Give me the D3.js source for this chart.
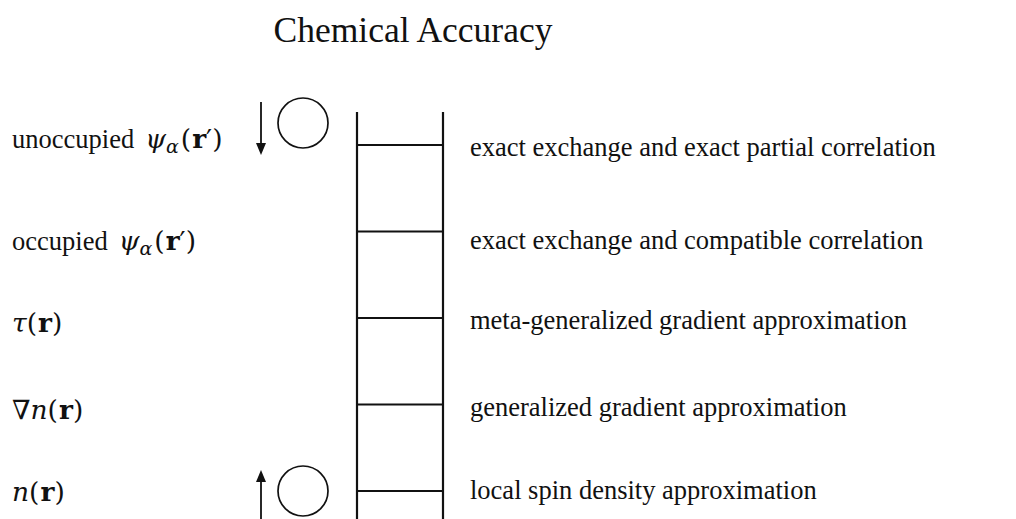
<!DOCTYPE html>
<html>
<head>
<meta charset="utf-8">
<script src="https://cdn.jsdelivr.net/npm/d3@7"></script>
<style>
  body { margin: 0; background: #fff; }
  text { font-family: "Liberation Serif", "DejaVu Serif", serif; fill: #111; }
  tspan.m { font-family: "DejaVu Serif", serif; }
</style>
</head>
<body>
<div id="chart"></div>
<script>
// rungs of the ladder, bottom to top
const rungs = ['LSDA', 'GGA', 'meta-GGA', 'hyper-GGA', 'RPA-like']
const rungLabels = [
    'local spin density approximation',
    'generalized gradient approximation',
    'meta-generalized gradient approximation',
    'exact exchange and compatible correlation',
    'exact exchange and exact partial correlation'
]
// ingredients on the left (parts: [text, style])
const ingredients = [
    [['n', 'i'], ['(', 'm'], ['r', 'b'], [')', 'm']],
    [['\u2207', 'm'], ['n', 'i'], ['(', 'm'], ['r', 'b'], [')', 'm']],
    [['\u03c4', 'i'], ['(', 'm'], ['r', 'b'], [')', 'm']],
    [['occupied', ''], ['\u03c8', 'i'], ['\u03b1', 'sub'], ['(', 'm'], ['r', 'b'], ['\u2032', 'm'], [')', 'm']],
    [['unoccupied', ''], ['\u03c8', 'i'], ['\u03b1', 'sub'], ['(', 'm'], ['r', 'b'], ['\u2032', 'm'], [')', 'm']]
]
const leftOffset = [2, 6, 6, 10, -5]
const rightOffset = [0, 3, 3, 9, 3]
const title = 'Chemical Accuracy'

const width = 1016, height = 519
const svg = d3.select('#chart').append('svg')
    .attr('width', width)
    .attr('height', height)

const y = d3.scalePoint().domain(rungs).range([491, 145])
const railL = 357, railR = 443

svg.append('text')
    .attr('x', 413).attr('y', 42)
    .attr('text-anchor', 'middle')
    .style('font-size', '35.5px')
    .text(title)

// rails
svg.selectAll('line.rail').data([railL, railR])
    .enter().append('line')
    .attr('class', 'rail')
    .attr('x1', d => d).attr('x2', d => d)
    .attr('y1', 112).attr('y2', height + 2)
    .attr('stroke', '#111').attr('stroke-width', 2.2)

svg.selectAll('line.rung').data(rungs)
    .enter().append('line')
    .attr('class', 'rung')
    .attr('x1', railL).attr('x2', railR)
    .attr('y1', d => y(d)).attr('y2', d => y(d))
    .attr('stroke', '#111').attr('stroke-width', 2.2)

svg.selectAll('text.rlab').data(rungLabels)
    .enter().append('text')
    .attr('class', 'rlab')
    .attr('x', 470)
    .attr('y', (d, i) => y(rungs[i]) + 8 + rightOffset[i])
    .style('font-size', '26.5px')
    .text(d => d)

const lab = svg.selectAll('text.llab').data(ingredients)
    .enter().append('text')
    .attr('class', 'llab')
    .attr('x', 12)
    .attr('y', (d, i) => y(rungs[i]) + 8 + leftOffset[i])
    .style('font-size', '26.5px')
lab.each(function(parts) {
    const t = d3.select(this)
    parts.forEach((p, k) => {
        const s = t.append('tspan').text(p[0])
        if (p[1] === 'm') s.attr('class', 'm')
        if (p[1] === 'i') s.attr('class', 'm').style('font-style', 'italic')
        if (p[1] === 'b') s.attr('class', 'm').style('font-weight', 'bold').attr('dx', 1)
        if (p[1] === 'sub') s.attr('class', 'm').style('font-style', 'italic').style('font-size', '19px').attr('dy', 5)
        if (k > 0 && parts[k - 1][1] === '') s.attr('dx', 11)
        if (k > 0 && parts[k - 1][1] === 'sub') s.attr('dy', -5).attr('dx', 2)
    })
})

// electron slots: unoccupied (top) and occupied (bottom)
const slots = [
    {rung: 'RPA-like', cy: 123, dir: 'down', y1: 102, y2: 155},
    {rung: 'LSDA', cy: 491, dir: 'up', y1: 470, y2: height + 2}
]
svg.selectAll('circle.slot').data(slots)
    .enter().append('circle')
    .attr('class', 'slot')
    .attr('cx', 303).attr('cy', d => d.cy).attr('r', 25)
    .attr('fill', 'none').attr('stroke', '#111').attr('stroke-width', 1.7)

svg.selectAll('line.spin').data(slots)
    .enter().append('line')
    .attr('class', 'spin')
    .attr('x1', 261).attr('x2', 261)
    .attr('y1', d => d.dir === 'down' ? d.y1 : d.y2)
    .attr('y2', d => d.dir === 'down' ? d.y2 - 8 : d.y1 + 8)
    .attr('stroke', '#111').attr('stroke-width', 1.8)

svg.selectAll('path.head').data(slots)
    .enter().append('path')
    .attr('class', 'head')
    .attr('d', d => d.dir === 'down'
        ? `M256,${d.y2 - 12}L261,${d.y2}L266,${d.y2 - 12}Z`
        : `M256,${d.y1 + 12}L261,${d.y1}L266,${d.y1 + 12}Z`)
    .attr('fill', '#111')
</script>
</body>
</html>
